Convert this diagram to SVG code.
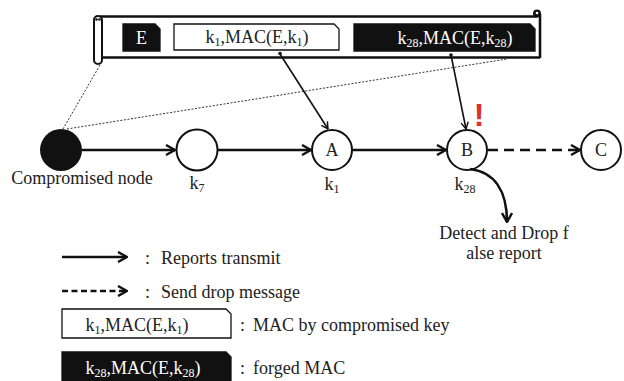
<svg xmlns="http://www.w3.org/2000/svg" width="624" height="381" viewBox="0 0 624 381">
  <style>
    .t { font-family: "Liberation Serif", "Times New Roman", serif; font-size: 18px; fill: #222; }
    .tw { font-family: "Liberation Serif", "Times New Roman", serif; font-size: 18px; fill: #fff; }
    .node { fill: #fff; stroke: #111; stroke-width: 2; }
    .flow { fill: none; stroke: #111; stroke-width: 2.6; }
    .thin { fill: none; stroke: #111; stroke-width: 1.6; }
    .dot { fill: none; stroke: #333; stroke-width: 1; stroke-dasharray: 2 1.6; }
    .box-w { fill: #fff; stroke: #111; stroke-width: 1.3; }
    .box-b { fill: #111; stroke: #111; stroke-width: 1.3; }
  </style>
  <defs>
    <marker id="chev" viewBox="0 0 12 12" markerWidth="12" markerHeight="12" refX="11" refY="6" orient="auto" markerUnits="userSpaceOnUse">
      <path d="M2,1 L11,6 L2,11" fill="none" stroke="#111" stroke-width="2.4"/>
    </marker>
    <marker id="small" viewBox="0 0 10 10" markerWidth="9" markerHeight="9" refX="9.5" refY="5" orient="auto" markerUnits="userSpaceOnUse">
      <path d="M2,1 L9.5,5 L2,9" fill="none" stroke="#111" stroke-width="1.6"/>
    </marker>
  </defs>

  <rect width="624" height="381" fill="#fff"/>

  <!-- report scroll carrying the event and its MACs -->
  <g id="report">
    <path d="M100,16.5 L537,16.5 M100,57.5 L540,57.5 M540,14 L540,58" fill="none" stroke="#111" stroke-width="2.6"/>
    <rect x="94" y="16" width="8" height="48" rx="4" fill="#fff" stroke="#111" stroke-width="2"/>
    <circle cx="96.5" cy="19.5" r="1.3" fill="#111"/>
    <circle cx="99.5" cy="19.5" r="1.3" fill="#111"/>
    <circle cx="537" cy="13.5" r="4" fill="#111"/>
    <circle cx="537" cy="13" r="1.3" fill="#fff"/>
    <g id="field-e">
      <path class="box-b" d="M123,24 L155,24 L160,29 L160,51 L123,51 Z"/>
      <text class="tw" x="141.5" y="44" text-anchor="middle" font-size="17">E</text>
    </g>
    <g id="field-k1">
      <path class="box-w" d="M174,24 L334,24 L339,29 L339,50 L174,50 Z"/>
      <text class="t" x="257" y="43" text-anchor="middle">k<tspan font-size="12" dy="3">1</tspan><tspan dy="-3">,MAC(E,k</tspan><tspan font-size="12" dy="3">1</tspan><tspan dy="-3">)</tspan></text>
    </g>
    <g id="field-k28">
      <path class="box-b" d="M354,24 L530,24 L535,29 L535,51 L354,51 Z"/>
      <text class="tw" x="455" y="44" text-anchor="middle">k<tspan font-size="12" dy="3">28</tspan><tspan dy="-3">,MAC(E,k</tspan><tspan font-size="12" dy="3">28</tspan><tspan dy="-3">)</tspan></text>
    </g>
  </g>

  <!-- nodes -->
  <g id="compromised">
    <circle cx="61" cy="150" r="21" fill="#111"/>
    <text class="t" x="82" y="184" text-anchor="middle">Compromised node</text>
  </g>
  <g id="k7">
    <circle class="node" cx="197" cy="150" r="20.5"/>
    <text class="t" x="197" y="189" text-anchor="middle">k<tspan font-size="12" dy="3">7</tspan></text>
  </g>
  <g id="A">
    <circle class="node" cx="332" cy="150" r="20"/>
    <text class="t" x="332" y="156" text-anchor="middle" font-size="17">A</text>
    <text class="t" x="332" y="190" text-anchor="middle">k<tspan font-size="12" dy="3">1</tspan></text>
  </g>
  <g id="B">
    <circle class="node" cx="467" cy="150" r="20"/>
    <text class="t" x="467" y="156" text-anchor="middle" font-size="17">B</text>
    <text class="t" x="465" y="190" text-anchor="middle">k<tspan font-size="12" dy="3">28</tspan></text>
    <text x="479" y="126" text-anchor="middle" font-family="Liberation Sans, Arial, sans-serif" font-weight="bold" font-size="32" fill="#e0302e">!</text>
  </g>
  <g id="C">
    <circle class="node" cx="601" cy="150" r="20"/>
    <text class="t" x="601" y="156" text-anchor="middle" font-size="17">C</text>
  </g>
  <g id="drop-note">
    <text class="t" x="504" y="239" text-anchor="middle" font-size="17">Detect and Drop f</text>
    <text class="t" x="504" y="259" text-anchor="middle" font-size="17">alse report</text>
  </g>

  <!-- connectors -->
  <g id="connectors">
    <path class="dot" d="M100,65 L63,129"/>
    <path class="dot" d="M67,129 L507,59"/>
    <path class="flow" d="M82,150 L175,150" marker-end="url(#chev)"/>
    <path class="flow" d="M218,150 L311,150" marker-end="url(#chev)"/>
    <path class="flow" d="M352,150 L446,150" marker-end="url(#chev)"/>
    <path class="flow" d="M488,150 L580,150" stroke-dasharray="10 6" marker-end="url(#chev)"/>
    <circle cx="280" cy="53.5" r="1.8" fill="#111"/>
    <path class="thin" d="M280,54 L328,129" marker-end="url(#small)"/>
    <circle cx="451" cy="55" r="1.8" fill="#111"/>
    <path class="thin" d="M451,55 L466,129" marker-end="url(#small)"/>
    <path class="flow" d="M470,169 C494,172 507,190 507,222" stroke-width="3" marker-end="url(#chev)"/>
  </g>

  <!-- legend -->
  <g id="legend">
    <path class="flow" d="M62,257 L127,257" marker-end="url(#chev)"/>
    <text class="t" x="145" y="264">:<tspan x="161">Reports transmit</tspan></text>
    <path class="flow" d="M62,291 L127,291" stroke-dasharray="6 3.5" marker-end="url(#chev)"/>
    <text class="t" x="145" y="298">:<tspan x="161">Send drop message</tspan></text>
    <path class="box-w" d="M62,309 L226,309 L231,314 L231,338 L62,338 Z"/>
    <text class="t" x="137" y="331" text-anchor="middle">k<tspan font-size="12" dy="3">1</tspan><tspan dy="-3">,MAC(E,k</tspan><tspan font-size="12" dy="3">1</tspan><tspan dy="-3">)</tspan></text>
    <text class="t" x="240" y="331">:<tspan x="253">MAC by compromised key</tspan></text>
    <path class="box-b" d="M62,352 L226,352 L231,357 L231,381 L62,381 Z"/>
    <text class="tw" x="143" y="374" text-anchor="middle">k<tspan font-size="12" dy="3">28</tspan><tspan dy="-3">,MAC(E,k</tspan><tspan font-size="12" dy="3">28</tspan><tspan dy="-3">)</tspan></text>
    <text class="t" x="240" y="374">:<tspan x="253">forged MAC</tspan></text>
  </g>
</svg>
